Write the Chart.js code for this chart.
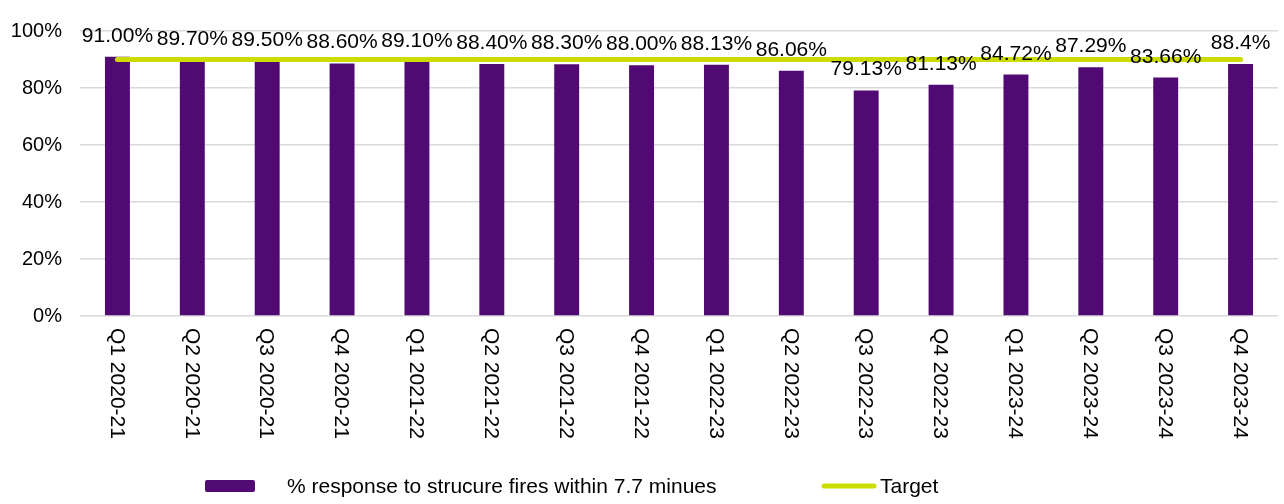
<!DOCTYPE html>
<html>
<head>
<meta charset="utf-8">
<script src="https://cdn.jsdelivr.net/npm/chart.js@4"></script>
<style>
    html, body { margin: 0; padding: 0; background: #fff; }
    #wrap { width: 1284px; height: 504px; position: relative; }
</style>
</head>
<body>
<div id="wrap"><canvas id="chart" width="1284" height="504"></canvas></div>
<script>
const quarters = [
    "Q1 2020-21", "Q2 2020-21", "Q3 2020-21", "Q4 2020-21",
    "Q1 2021-22", "Q2 2021-22", "Q3 2021-22", "Q4 2021-22",
    "Q1 2022-23", "Q2 2022-23", "Q3 2022-23", "Q4 2022-23",
    "Q1 2023-24", "Q2 2023-24", "Q3 2023-24", "Q4 2023-24"
];
const responseRates = [91.00, 89.70, 89.50, 88.60, 89.10, 88.40, 88.30, 88.00, 88.13, 86.06, 79.13, 81.13, 84.72, 87.29, 83.66, 88.4];
const valueLabels = ["91.00%", "89.70%", "89.50%", "88.60%", "89.10%", "88.40%", "88.30%", "88.00%", "88.13%", "86.06%", "79.13%", "81.13%", "84.72%", "87.29%", "83.66%", "88.4%"];
const target = [90, 90, 90, 90, 90, 90, 90, 90, 90, 90, 90, 90, 90, 90, 90, 90];
const yTicks = [0, 20, 40, 60, 80, 100];

const PURPLE = "#510a74";
const LIME = "#cddc00";
const FONT = "'Liberation Sans', Arial, sans-serif";

// labels above the bars, rotated category names, and the legend
const extras = {
    id: "extras",
    afterDraw(chart) {
        const ctx = chart.ctx;
        const x = chart.scales.x;
        const y = chart.scales.y;
        ctx.save();
        ctx.fillStyle = "#000";
        ctx.font = "21px " + FONT;

        // value labels
        ctx.textAlign = "center";
        ctx.textBaseline = "alphabetic";
        chart.getDatasetMeta(1).data.forEach((bar, i) => {
            ctx.fillText(valueLabels[i], bar.x, bar.y - 15);
        });

        // category labels, reading top to bottom
        quarters.forEach((q, i) => {
            ctx.save();
            ctx.translate(x.getPixelForValue(i), y.bottom + 12);
            ctx.rotate(Math.PI / 2);
            ctx.textAlign = "left";
            ctx.textBaseline = "middle";
            ctx.fillText(q, 0, 1);
            ctx.restore();
        });

        // legend
        const ly = 486;
        ctx.fillStyle = PURPLE;
        ctx.beginPath();
        ctx.roundRect(205, ly - 6, 50, 12, 2);
        ctx.fill();
        ctx.fillStyle = "#000";
        ctx.textAlign = "left";
        ctx.textBaseline = "middle";
        ctx.fillText(chart.data.datasets[1].label, 287, ly + 1);

        ctx.strokeStyle = LIME;
        ctx.lineWidth = 5;
        ctx.lineCap = "round";
        ctx.beginPath();
        ctx.moveTo(824, ly);
        ctx.lineTo(874, ly);
        ctx.stroke();
        ctx.fillText(chart.data.datasets[0].label, 880, ly + 1);
        ctx.restore();
    }
};

new Chart(document.getElementById("chart"), {
    data: {
        labels: quarters,
        datasets: [
            {
                type: "line",
                label: "Target",
                data: target,
                borderColor: LIME,
                borderWidth: 5,
                borderCapStyle: "round",
                pointRadius: 0,
                fill: false,
                order: 0
            },
            {
                type: "bar",
                label: "% response to strucure fires within 7.7 minues",
                data: responseRates,
                backgroundColor: PURPLE,
                categoryPercentage: 1,
                barPercentage: 0.333,
                order: 1
            }
        ]
    },
    options: {
        responsive: false,
        animation: false,
        layout: { padding: { top: 31, right: 6, bottom: 188, left: 8 } },
        plugins: {
            legend: { display: false },
            tooltip: { enabled: false }
        },
        scales: {
            x: {
                grid: { display: false, drawTicks: false },
                border: { display: false },
                ticks: { display: false }
            },
            y: {
                min: 0,
                max: 100,
                afterBuildTicks(scale) {
                    scale.ticks = yTicks.map(v => ({ value: v }));
                },
                afterFit(scale) {
                    scale.width = 72;
                },
                grid: { color: "#d9d9d9", lineWidth: 1.5, drawTicks: false },
                border: { display: false },
                ticks: {
                    padding: 18,
                    color: "#000",
                    font: { family: FONT, size: 20 },
                    callback: v => v + "%"
                }
            }
        }
    },
    plugins: [extras]
});
</script>
</body>
</html>
